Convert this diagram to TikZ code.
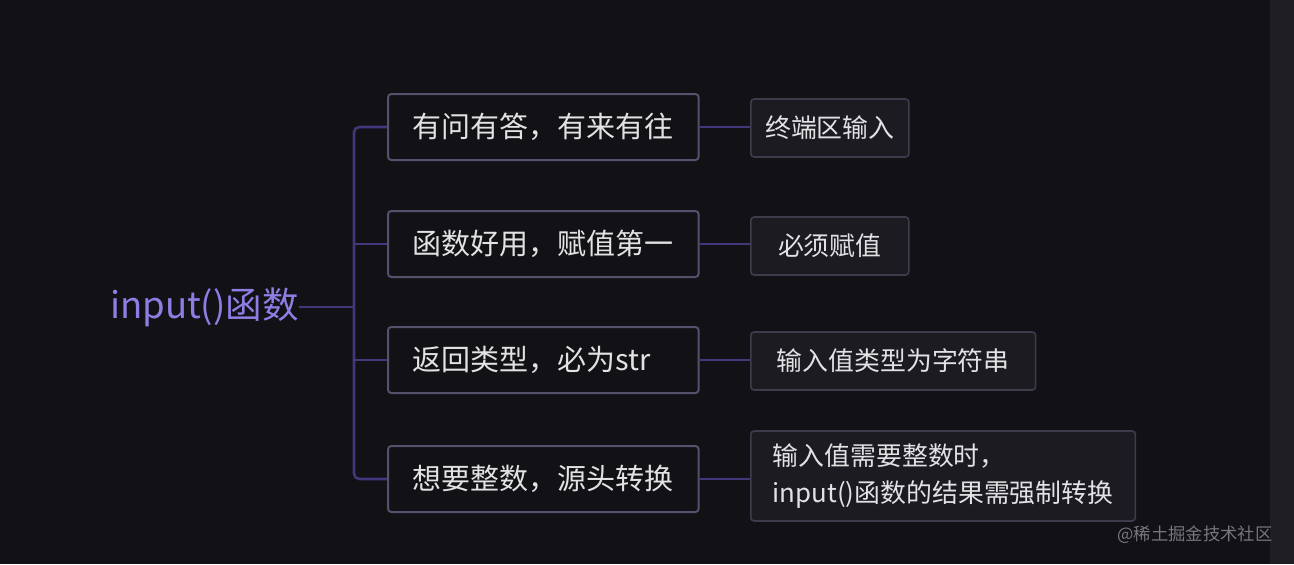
\documentclass[tikz,border=0pt]{standalone}
\usepackage{fontspec}
\setmainfont{Noto Sans CJK SC}
\definecolor{bgdark}{HTML}{121116}
\definecolor{sidebar}{HTML}{1F1E23}
\definecolor{rootpurple}{HTML}{8C7EE3}
\definecolor{linkpurple}{HTML}{40387A}
\definecolor{mainedge}{HTML}{55506C}
\definecolor{leafedge}{HTML}{3E3C4A}
\definecolor{leaffill}{HTML}{1C1B21}
\definecolor{textgray}{HTML}{E2E2E4}
\definecolor{markgray}{HTML}{77767C}
\begin{document}
\begin{tikzpicture}[x=0.75pt, y=-0.75pt,
    link/.style={linkpurple, line width=1.9pt},
    mainbox/.style={draw=mainedge, fill=bgdark, line width=1.5pt, rounded corners=2.5pt, anchor=west, minimum height=49.5pt, text width=196pt, inner xsep=18.5pt, align=left, text=textgray, font=\fontsize{21.75}{26}\selectfont},
    leafbox/.style={draw=leafedge, fill=leaffill, line width=1.2pt, rounded corners=2.5pt, anchor=west, minimum height=43.5pt, minimum width=118.5pt, inner xsep=19.5pt, align=center, text=textgray, font=\fontsize{19.4}{27.75}\selectfont}]
  \useasboundingbox (0,0) rectangle (1294,564);
  \fill[bgdark] (0,0) rectangle (1294,564);
  \fill[sidebar] (1270,0) rectangle (1294,564);
  \node[anchor=east, inner sep=0pt, text=rootpurple, font=\fontsize{27.4}{32}\selectfont] (root) at (299,307) {input()函数};
  \node[mainbox] (m1) at (387,127) {有问有答，有来有往};
  \node[mainbox] (m2) at (387,244) {函数好用，赋值第一};
  \node[mainbox] (m3) at (387,360) {返回类型，必为str};
  \node[mainbox] (m4) at (387,479) {想要整数，源头转换};
  \node[leafbox, inner xsep=10pt] (l1) at (750,128) {终端区输入};
  \node[leafbox] (l2) at (750,246) {必须赋值};
  \node[leafbox] (l3) at (750,361) {输入值类型为字符串};
  \node[leafbox, align=left, inner xsep=16.5pt, minimum height=67.5pt] (l4) at (750,476) {输入值需要整数时，\\input()函数的结果需强制转换};
  \coordinate (trunk) at (354,307);
  \draw[link, rounded corners=4pt] (m1.west) -| (trunk) |- (m4.west);
  \draw[link] (root.east) -- (trunk);
  \draw[link] (trunk |- m2.west) -- (m2.west);
  \draw[link] (trunk |- m3.west) -- (m3.west);
  \draw[link] (m1.east) -- (l1.west |- m1.east);
  \draw[link] (m2.east) -- (l2.west |- m2.east);
  \draw[link] (m3.east) -- (l3.west |- m3.east);
  \draw[link] (m4.east) -- (l4.west |- m4.east);
  \node[text=markgray, font=\fontsize{13}{15}\selectfont] (mark) at (1195,535) {@稀土掘金技术社区};
\end{tikzpicture}
\end{document}
